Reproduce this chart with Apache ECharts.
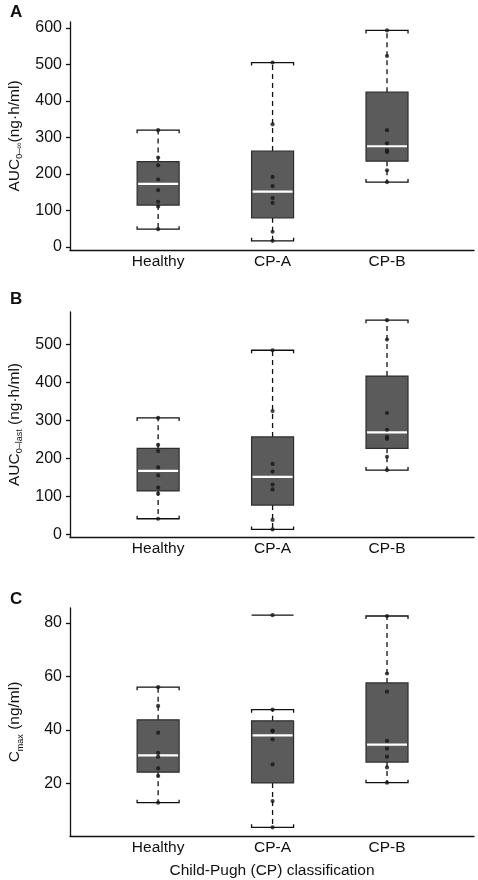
<!DOCTYPE html>
<html>
<head>
<meta charset="utf-8">
<script src="https://cdn.jsdelivr.net/npm/echarts@6/dist/echarts.min.js"></script>
<style>
html,body{margin:0;padding:0;background:#fff;}
#chart{width:478px;height:880px;}
</style>
</head>
<body>
<div id="chart"></div>
<script>
// ---------- data ----------
const categories = ['Healthy', 'CP-A', 'CP-B'];

// Panel A: AUC0-inf (ng·h/ml)
const aucInfPoints = [
  [320, 245, 224, 185, 156, 124, 111, 49],
  [505, 336, 192, 167, 134, 121, 42, 17],
  [593, 523, 320, 284, 265, 260, 210, 178]
];
// [lower whisker, Q1, median, Q3, upper whisker]
const aucInfBox = [
  [49, 115, 173, 234, 320],
  [17, 80, 152, 263, 505],
  [178, 235, 276, 424, 593]
];
const aucInfTicks = [0, 100, 200, 300, 400, 500, 600];

// Panel B: AUC0-last (ng·h/ml)
const aucLastPoints = [
  [307, 236, 220, 177, 156, 124, 108, 42],
  [485, 325, 186, 166, 132, 119, 39, 14],
  [564, 513, 320, 276, 257, 252, 205, 170]
];
const aucLastBox = [
  [42, 115, 168, 227, 307],
  [14, 78, 152, 257, 485],
  [170, 227, 269, 417, 564]
];
const aucLastTicks = [0, 100, 200, 300, 400, 500];

// Panel C: Cmax (ng/ml)
const cmaxPoints = [
  [56, 49, 39, 31.4, 30, 25.6, 22.8, 12.8],
  [82.9, 47.6, 39.8, 39.5, 36.5, 27.1, 13.4, 3.6],
  [82.6, 61.1, 54.3, 35.9, 33, 30, 26, 20.3]
];
const cmaxBox = [
  [12.8, 24.2, 30.5, 43.8, 56],
  [3.6, 20.2, 38, 43.4, 47.6],
  [20.3, 28, 34.5, 57.6, 82.6]
];
const cmaxExtraCaps = [null, 82.9, null];
const cmaxTicks = [20, 40, 60, 80];

// ---------- chart ----------
const FONT = "'Liberation Sans', Arial, Helvetica, sans-serif";
const BOX_W = 0.367;
const chart = echarts.init(document.getElementById('chart'), null, {renderer: 'canvas'});

function boxData(box) {
  return box.map((b, i) => [i + 1].concat(b));
}
function pointData(pts) {
  const out = [];
  pts.forEach((arr, i) => arr.forEach(v => out.push([i + 1, v])));
  return out;
}

function renderBox(params, api) {
  const x = api.value(0);
  const lo = api.coord([x, api.value(1)]);
  const q1 = api.coord([x, api.value(2)]);
  const md = api.coord([x, api.value(3)]);
  const q3 = api.coord([x, api.value(4)]);
  const hi = api.coord([x, api.value(5)]);
  const hw = api.size([BOX_W, 0])[0] / 2;
  const cx = lo[0];
  const ser = 3;
  const dash = {stroke: '#111', lineWidth: 1.3, lineDash: [5, 4]};
  const solid = {stroke: '#111', lineWidth: 1.3, fill: null};
  return {
    type: 'group',
    children: [
      {type: 'line', shape: {x1: cx, y1: q3[1], x2: cx, y2: hi[1]}, style: dash},
      {type: 'line', shape: {x1: cx, y1: q1[1], x2: cx, y2: lo[1]}, style: dash},
      {type: 'polyline', shape: {points: [[cx - hw, hi[1] + ser], [cx - hw, hi[1]], [cx + hw, hi[1]], [cx + hw, hi[1] + ser]]}, style: solid},
      {type: 'polyline', shape: {points: [[cx - hw, lo[1] - ser], [cx - hw, lo[1]], [cx + hw, lo[1]], [cx + hw, lo[1] - ser]]}, style: solid},
      {type: 'rect', shape: {x: cx - hw, y: q3[1], width: 2 * hw, height: q1[1] - q3[1]},
        style: {fill: '#5b5b5b', stroke: '#2e2e2e', lineWidth: 1.2}},
      {type: 'line', shape: {x1: cx - hw + 1, y1: md[1], x2: cx + hw - 1, y2: md[1]},
        style: {stroke: '#ffffff', lineWidth: 2.2}}
    ]
  };
}

function renderExtraCap(params, api) {
  const x = api.value(0);
  const p = api.coord([x, api.value(1)]);
  const hw = api.size([BOX_W, 0])[0] / 2;
  return {type: 'line', shape: {x1: p[0] - hw, y1: p[1], x2: p[0] + hw, y2: p[1]},
    style: {stroke: '#111', lineWidth: 1.3}};
}

const grids = [
  {left: 70, right: 4, top: 22, bottom: 630, outerBoundsMode: 'none', containLabel: false},
  {left: 70, right: 4, top: 312, bottom: 343, outerBoundsMode: 'none', containLabel: false},
  {left: 70, right: 4, top: 608, bottom: 44, outerBoundsMode: 'none', containLabel: false}
];

function xAxisFor(i, withName) {
  return {
    type: 'value', gridIndex: i, min: 0.23, max: 3.76,
    axisLine: {show: true, onZero: false, lineStyle: {color: '#111', width: 1.3}},
    axisTick: {show: false},
    splitLine: {show: false},
    axisLabel: {
      customValues: [1, 2, 3], margin: 4,
      formatter: v => categories[Math.round(v) - 1] || '',
      color: '#111', fontSize: 15.5, fontFamily: FONT
    },
    name: withName ? 'Child-Pugh (CP) classification' : '',
    nameLocation: 'middle', nameGap: 27,
    nameTextStyle: {color: '#111', fontSize: 15.5, fontFamily: FONT}
  };
}

function yAxisFor(i, min, max, ticks, name) {
  return {
    type: 'value', gridIndex: i, min: min, max: max,
    axisLine: {show: true, onZero: false, lineStyle: {color: '#111', width: 1.3}},
    axisTick: {show: true, length: 4, customValues: ticks, lineStyle: {color: '#111', width: 1.3}},
    splitLine: {show: false},
    axisLabel: {customValues: ticks, margin: 8, color: '#111', fontSize: 16, fontFamily: FONT},
    name: name, nameLocation: 'middle', nameGap: 45, nameRotate: 90,
    nameTextStyle: {
      color: '#111', fontFamily: FONT,
      rich: {
        n: {fontSize: 15.5, fontFamily: FONT, color: '#111', lineHeight: 20},
        s: {fontSize: 9, fontFamily: FONT, color: '#111', lineHeight: 9, verticalAlign: 'bottom'}
      }
    }
  };
}

const panels = [
  {box: aucInfBox, pts: aucInfPoints},
  {box: aucLastBox, pts: aucLastPoints},
  {box: cmaxBox, pts: cmaxPoints}
];

const series = [];
panels.forEach((p, i) => {
  series.push({
    type: 'custom', xAxisIndex: i, yAxisIndex: i, z: 2,
    renderItem: renderBox, data: boxData(p.box),
    encode: {x: 0, y: [1, 2, 3, 4, 5]}, silent: true
  });
  series.push({
    type: 'scatter', xAxisIndex: i, yAxisIndex: i, z: 5,
    symbol: 'circle', symbolSize: 4.2,
    itemStyle: {color: '#151515'},
    data: pointData(p.pts), silent: true
  });
});
series.push({
  type: 'custom', xAxisIndex: 2, yAxisIndex: 2, z: 3,
  renderItem: renderExtraCap,
  data: cmaxExtraCaps.map((v, i) => v == null ? null : [i + 1, v]).filter(d => d),
  encode: {x: 0, y: 1}, silent: true
});

chart.setOption({
  animation: false,
  backgroundColor: '#fff',
  grid: grids,
  xAxis: [xAxisFor(0, false), xAxisFor(1, false), xAxisFor(2, true)],
  yAxis: [
    yAxisFor(0, -8, 616, aucInfTicks, '{n|AUC}{s|0–∞}{n|(ng·h/ml)}'),
    yAxisFor(1, -6, 585.5, aucLastTicks, '{n|AUC}{s|0–last}{n| (ng·h/ml)}'),
    yAxisFor(2, 0.35, 85.6, cmaxTicks, '{n|C}{s|max}{n| (ng/ml)}')
  ],
  graphic: [
    {type: 'text', left: 10, top: 4, style: {text: 'A', fontSize: 17, fontWeight: 'bold', fontFamily: FONT, fill: '#111'}},
    {type: 'text', left: 10, top: 291, style: {text: 'B', fontSize: 17, fontWeight: 'bold', fontFamily: FONT, fill: '#111'}},
    {type: 'text', left: 10, top: 591, style: {text: 'C', fontSize: 17, fontWeight: 'bold', fontFamily: FONT, fill: '#111'}}
  ],
  series: series
});
</script>
</body>
</html>
